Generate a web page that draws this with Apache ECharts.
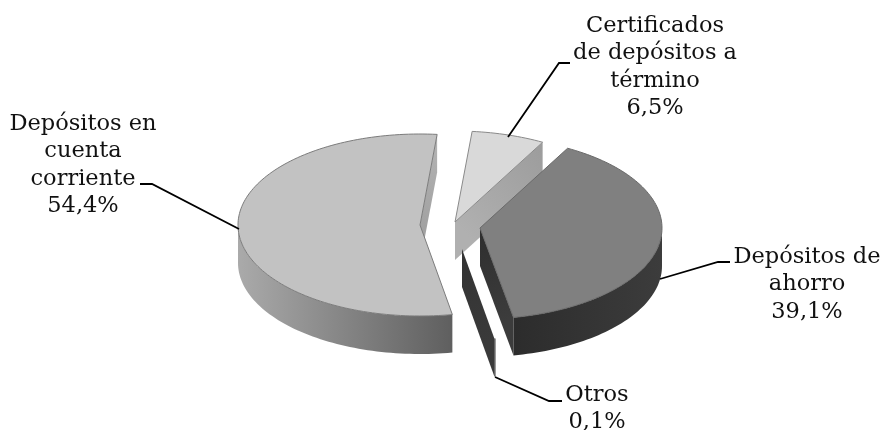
<!DOCTYPE html>
<html>
<head>
<meta charset="utf-8">
<style>html,body{margin:0;padding:0;background:#fff}#c{width:882px;height:430px}</style>
<script src="https://cdn.jsdelivr.net/npm/echarts@6/dist/echarts.min.js"></script>
</head>
<body>
<div id="c"></div>
<script>
// Data, clockwise from the start angle
const categories = ['Certificados\nde depósitos a\ntérmino', 'Depósitos de\nahorro', 'Otros', 'Depósitos en\ncuenta\ncorriente'];
const shares = [6.5, 39.1, 0.1, 54.4];

// Layout and style
const START = 5.4, RX = 182, RY = 91, DEPTH = 38, FONT = '22.5px "DejaVu Serif"', LINE = 27.5;
const total = shares.reduce((a, b) => a + b, 0);
const looks = [
  { apex: [455, 222], top: '#d9d9d9', topEdge: '#8a8a8a', end: ['#b0b0b0', '#9c9c9c'], side: ['#a0a0a0', '#a0a0a0'],
    text: [655, 25], leader: [[570, 63], [559, 63], [508, 137]] },
  { apex: [480, 228], top: '#808080', topEdge: '#6a6a6a', end: ['#2e2e2e', '#3c3c3c'], side: ['#3c3c3c', '#2c2c2c'],
    text: [807, 256], leader: [[730, 262], [718, 262], [660, 279]] },
  { apex: [462, 249], top: '#ffffff', topEdge: '#ffffff', end: ['#333333', '#3a3a3a'], side: ['#333333', '#333333'],
    text: [597, 394], leader: [[562, 401], [549, 401], [495, 377]] },
  { apex: [420, 225], top: '#c2c2c2', topEdge: '#7c7c7c', end: ['#a2a2a2', '#b4b4b4'], side: ['#5f5f5f', '#aaaaaa'],
    text: [83, 123], leader: [[140, 184], [152, 184], [239, 229]] }
];

function pt(c, deg, dy) {
  const r = deg * Math.PI / 180;
  return [c[0] + RX * Math.sin(r), c[1] - RY * Math.cos(r) + (dy || 0)];
}
function arc(c, a0, a1, dy) {
  const n = Math.max(1, Math.ceil(Math.abs(a1 - a0) / 1.5)), out = [];
  for (let i = 0; i <= n; i++) out.push(pt(c, a0 + (a1 - a0) * i / n, dy));
  return out;
}
function grad(x, y, x2, y2, stops) {
  return { type: 'linear', x, y, x2, y2, global: true,
    colorStops: [{ offset: 0, color: stops[0] }, { offset: 1, color: stops[1] }] };
}

function renderItem(params, api) {
  const i = params.dataIndex, look = looks[i], c = look.apex, v = api.value(0);
  let before = 0;
  for (let k = 0; k < i; k++) before += shares[k];
  const a0 = START + before / total * 360, a1 = a0 + v / total * 360;
  const kids = [];
  const poly = (points, fill, stroke) => kids.push({ type: 'polygon', shape: { points },
    style: { fill, stroke: stroke || null, lineWidth: stroke ? 1 : 0 } });

  // radial face at the clockwise end of the slice
  const e = pt(c, a1);
  poly([c, [c[0], c[1] + DEPTH], [e[0], e[1] + DEPTH], e],
    grad(c[0], c[1], e[0], e[1], look.end));

  // outer wall, on the front half only: shaded from its right end to its left end
  const s0 = Math.max(a0, 90), s1 = Math.min(a1, 270);
  if (s1 > s0) {
    const topArc = arc(c, s0, s1, 0), botArc = arc(c, s1, s0, DEPTH);
    const xs = topArc.map(p => p[0]);
    poly(topArc.concat(botArc), grad(Math.max(...xs), 0, Math.min(...xs), 0, look.side));
  }

  // top face
  if (v >= 1) poly([c].concat(arc(c, a0, a1, 0)), look.top, look.topEdge);

  // leader and label
  kids.push({ type: 'polyline', shape: { points: look.leader },
    style: { fill: null, stroke: '#000', lineWidth: 1.8 } });
  kids.push({ type: 'text', style: {
    text: categories[i] + '\n' + v.toFixed(1).replace('.', ',') + '%',
    x: look.text[0], y: look.text[1] - 13, align: 'center', verticalAlign: 'top',
    font: FONT, lineHeight: LINE, fill: '#111' } });
  return { type: 'group', children: kids };
}

const chart = echarts.init(document.getElementById('c'), null, { renderer: 'canvas' });
chart.setOption({
  animation: false,
  backgroundColor: '#fff',
  series: [{
    type: 'custom',
    coordinateSystem: 'none',
    silent: true,
    renderItem,
    data: shares.map(v => [v])
  }]
});
</script>
</body>
</html>
